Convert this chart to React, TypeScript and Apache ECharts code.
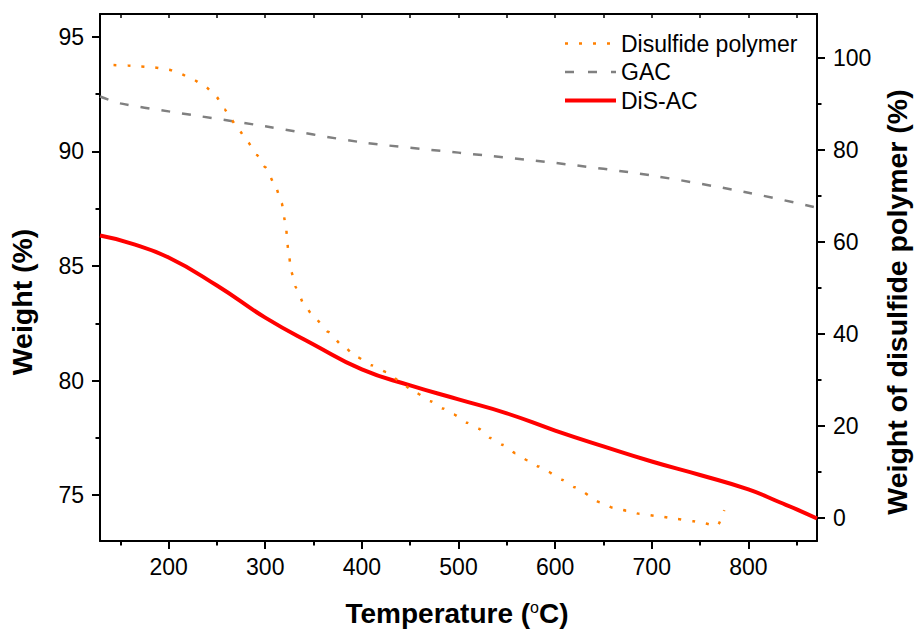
import React, { useEffect, useRef } from 'react';
import * as echarts from 'echarts';

const FONT = '"Liberation Sans", Arial, Helvetica, sans-serif';

// Axis ticks
const xTicks = [200, 300, 400, 500, 600, 700, 800];
const xMinorTicks = [150, 250, 350, 450, 550, 650, 750, 850];
const topTicks = [150, 200, 250, 300, 350, 400, 450, 500, 550, 600, 650, 700, 750, 800, 850];
const leftTicks = [75, 80, 85, 90, 95];
const leftMinorTicks = [77.5, 82.5, 87.5, 92.5];
const rightTicks = [0, 20, 40, 60, 80, 100];
const rightMinorTicks = [10, 30, 50, 70, 90];

// Series names
const seriesNames = ['Disulfide polymer', 'GAC', 'DiS-AC'];

// Disulfide polymer (right axis)
const polymerTemp = [143, 158, 171, 184, 200, 212, 225, 238, 249, 258, 263, 273, 282, 291, 300, 310, 317, 321, 324, 327, 332, 340, 350, 365, 380, 395, 410, 426, 440, 450, 456, 471, 484, 495, 509, 521, 533, 546, 559, 572, 583, 592, 607, 620, 647, 660, 674, 687, 708, 726, 743, 752, 768, 775];
const polymerWeight = [98.5, 98.4, 98.2, 98.0, 97.5, 96.6, 95.4, 93.8, 91.7, 88.9, 87.2, 84.3, 81.7, 79.0, 76.3, 72.5, 68.5, 64.0, 58.0, 53.5, 50.0, 46.5, 43.8, 40.5, 37.5, 35.0, 33.2, 31.7, 29.6, 28.1, 27.2, 25.4, 23.8, 22.5, 20.7, 19.4, 17.4, 15.9, 14.1, 12.5, 11.2, 10.1, 8.3, 6.7, 3.4, 2.2, 1.6, 0.9, 0.35, -0.2, -0.7, -1.1, -1.7, 1.7];

// GAC (left axis)
const gacTemp = [129, 150, 200, 300, 400, 500, 600, 700, 800, 871];
const gacWeight = [92.4, 92.1, 91.75, 91.1, 90.4, 89.95, 89.5, 88.95, 88.2, 87.55];

// DiS-AC (left axis)
const disTemp = [129, 160, 200, 250, 300, 350, 400, 450, 500, 550, 600, 650, 700, 750, 800, 833, 850, 871];
const disWeight = [86.33, 86.0, 85.37, 84.15, 82.75, 81.58, 80.49, 79.79, 79.18, 78.57, 77.82, 77.13, 76.47, 75.88, 75.25, 74.68, 74.38, 73.98];

const zip = (a: number[], b: number[]) => a.map((v, i) => [v, b[i]]);

export default function App() {
  const ref = useRef<HTMLDivElement>(null);
  useEffect(() => {
    document.body.style.margin = '0';
    if (!ref.current) return;
    const chart = echarts.init(ref.current, undefined, { renderer: 'svg' });
    const axisLine = { show: true, onZero: false, lineStyle: { color: '#000', width: 2 } };
    const noLine = { show: false, onZero: false };
    const labelStyle = { color: '#000', fontSize: 23, fontFamily: FONT };
    const xBase = { type: 'value', min: 129, max: 871, splitLine: { show: false } };
    const yLeft = { type: 'value', min: 73, max: 96, splitLine: { show: false } };
    const yRight = { type: 'value', min: -5, max: 109.6, splitLine: { show: false } };
    chart.setOption({
      animation: false,
      grid: { left: 100, right: 100, top: 14, bottom: 92, containLabel: false },
      legend: {
        data: [
          { name: seriesNames[0], lineStyle: { width: 2.5, type: [3, 11] } },
          { name: seriesNames[1], lineStyle: { width: 2.5, type: [9, 14] } },
          { name: seriesNames[2], lineStyle: { width: 4 } },
        ],
        orient: 'vertical',
        left: 563,
        top: 32,
        padding: 0,
        itemWidth: 51,
        itemHeight: 14,
        itemGap: 5.5,
        itemStyle: { opacity: 0 },
        textStyle: { color: '#000', fontSize: 23, fontFamily: FONT, lineHeight: 22 },
      },
      xAxis: [
        {
          ...xBase,
          position: 'bottom',
          axisLine,
          axisTick: { show: true, customValues: xTicks, length: 8, lineStyle: { color: '#000', width: 2 } },
          axisLabel: { ...labelStyle, customValues: xTicks, margin: 14 },
        },
        {
          ...xBase,
          position: 'bottom',
          axisLine: noLine,
          axisTick: { show: true, customValues: xMinorTicks, length: 4.5, lineStyle: { color: '#000', width: 2 } },
          axisLabel: { show: false },
        },
        {
          ...xBase,
          position: 'top',
          axisLine,
          axisTick: { show: true, inside: true, customValues: topTicks, length: 4, lineStyle: { color: '#000', width: 1.5 } },
          axisLabel: { show: false },
        },
      ],
      yAxis: [
        {
          ...yLeft,
          position: 'left',
          axisLine,
          axisTick: { show: true, customValues: leftTicks, length: 8, lineStyle: { color: '#000', width: 2 } },
          axisLabel: { ...labelStyle, customValues: leftTicks, margin: 16 },
        },
        {
          ...yLeft,
          position: 'left',
          axisLine: noLine,
          axisTick: { show: true, customValues: leftMinorTicks, length: 4.5, lineStyle: { color: '#000', width: 2 } },
          axisLabel: { show: false },
        },
        {
          ...yRight,
          position: 'right',
          axisLine,
          axisTick: { show: true, customValues: rightTicks, length: 8, lineStyle: { color: '#000', width: 2 } },
          axisLabel: { ...labelStyle, customValues: rightTicks, margin: 16 },
        },
        {
          ...yRight,
          position: 'right',
          axisLine: noLine,
          axisTick: { show: true, customValues: rightMinorTicks, length: 4.5, lineStyle: { color: '#000', width: 2 } },
          axisLabel: { show: false },
        },
      ],
      series: [
        {
          name: seriesNames[0],
          type: 'line',
          xAxisIndex: 0,
          yAxisIndex: 2,
          data: zip(polymerTemp, polymerWeight),
          symbol: 'none',
          smooth: 0.2,
          smoothMonotone: 'x',
          color: '#FF8000',
          lineStyle: { color: '#FF8000', width: 2.5, type: [3, 11] },
          z: 3,
        },
        {
          name: seriesNames[1],
          type: 'line',
          xAxisIndex: 0,
          yAxisIndex: 0,
          data: zip(gacTemp, gacWeight),
          symbol: 'none',
          smooth: 0.3,
          color: '#808080',
          lineStyle: { color: '#808080', width: 2.5, type: [9, 12] },
          z: 2,
        },
        {
          name: seriesNames[2],
          type: 'line',
          xAxisIndex: 0,
          yAxisIndex: 0,
          data: zip(disTemp, disWeight),
          symbol: 'none',
          smooth: 0.5,
          color: '#FF0000',
          lineStyle: { color: '#FF0000', width: 4 },
          z: 2,
        },
      ],
      graphic: [
        {
          type: 'text',
          x: 22,
          y: 302,
          rotation: Math.PI / 2,
          style: { text: 'Weight (%)', fill: '#000', font: `bold 28.5px ${FONT}`, align: 'center', verticalAlign: 'middle' },
        },
        {
          type: 'text',
          x: 897,
          y: 302,
          rotation: Math.PI / 2,
          style: { text: 'Weight of disulfide polymer (%)', fill: '#000', font: `bold 28.5px ${FONT}`, align: 'center', verticalAlign: 'middle' },
        },
        {
          type: 'text',
          x: 457,
          y: 613,
          style: {
            text: 'Temperature ({s|o}C)',
            fill: '#000',
            font: `bold 28px ${FONT}`,
            align: 'center',
            verticalAlign: 'middle',
            rich: {
              s: { fontSize: 16, fontWeight: 'normal', fontFamily: FONT, verticalAlign: 'top', fill: '#000', lineHeight: 28 },
            },
          },
        },
      ],
    });
    return () => chart.dispose();
  }, []);
  return <div ref={ref} style={{ width: 917, height: 633 }} />;
}
